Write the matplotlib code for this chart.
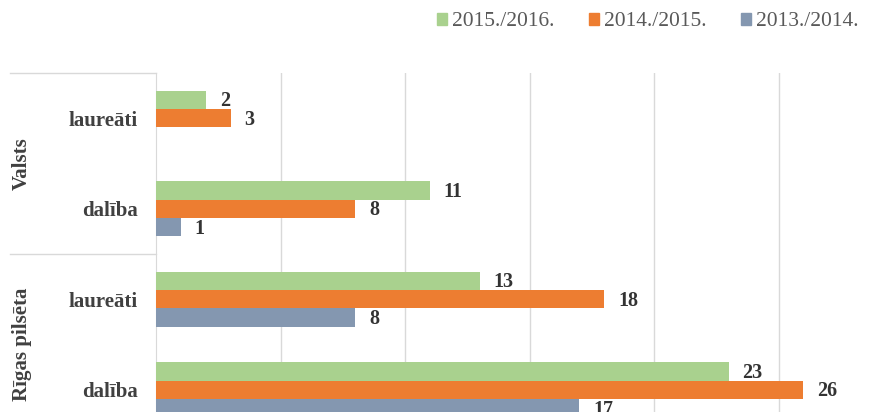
import numpy as np
import matplotlib
matplotlib.use("Agg")
import matplotlib.pyplot as plt
from matplotlib.patches import Patch
from matplotlib.lines import Line2D

plt.rcParams['font.family'] = ['Liberation Serif', 'DejaVu Serif']

# Dati (no augšas uz leju)
groups = ["Valsts", "Rīgas pilsēta"]
categories = ["laureāti", "dalība", "laureāti", "dalība"]
series = ["2015./2016.", "2014./2015.", "2013./2014."]
v2016 = [2, 11, 13, 23]
v2015 = [3, 8, 18, 26]
v2014 = [np.nan, 1, 8, 17]
colors = ["#A9D18E", "#ED7D31", "#8497B0"]

W, H = 880, 412
fig = plt.figure(figsize=(W / 100, H / 100), dpi=100)
# asis iziet ārpus attēla (oriģināls ir apgriezts)
ax = fig.add_axes([156 / W, (H - 435) / H, (903 - 156) / W, (435 - 73) / H])

y = np.arange(len(categories))
h = 0.204
for k, (vals, col) in enumerate(zip([v2016, v2015, v2014], colors)):
    yy = y + (k - 1) * h
    ax.barh(yy, vals, height=h, color=col, zorder=3)
    for yi, v in zip(yy, vals):
        if np.isnan(v):
            continue
        ax.annotate(str(v), (v, yi), xytext=(10, -1), textcoords="offset points",
                    va="center", ha="left", fontsize=14.5, fontweight="bold",
                    color="#333333")

ax.set_xlim(0, 30)
ax.set_ylim(3.5, -0.5)
ax.set_xticks([5, 10, 15, 20, 25])
ax.xaxis.grid(True, color="#D9D9D9", linewidth=1)
ax.set_axisbelow(True)
ax.tick_params(axis="x", length=0, labelbottom=False)
ax.set_yticks(y)
ax.set_yticklabels(categories, fontsize=15, fontweight="bold", color="#404040")
ax.tick_params(axis="y", length=0, pad=13)
for s in ["top", "right", "bottom"]:
    ax.spines[s].set_visible(False)
ax.spines["left"].set_color("#D9D9D9")

# grupu nosaukumi un atdalītāji
tr = ax.get_yaxis_transform()
x0 = (10 - 156) / (903 - 156)
for yl in [-0.5, 1.5]:
    ax.add_line(Line2D([x0, 0], [yl, yl], transform=tr, color="#D9D9D9",
                       linewidth=1, clip_on=False))
for g, yc in zip(groups, [0.5, 2.5]):
    ax.text((22 - 156) / (903 - 156), yc, g, transform=tr, rotation=90,
            ha="center", va="center", fontsize=15, fontweight="bold",
            color="#404040")

handles = [Patch(color=c) for c in colors]
fig.legend(handles, series, loc="center left", bbox_to_anchor=(428 / W, 1 - 22 / H),
           ncol=3, frameon=False, fontsize=15.5, handlelength=0.5, handleheight=0.5,
           handletextpad=0.2, columnspacing=1.6, labelcolor="#595959",
           borderaxespad=0)

fig.savefig("out.png", dpi=100)
